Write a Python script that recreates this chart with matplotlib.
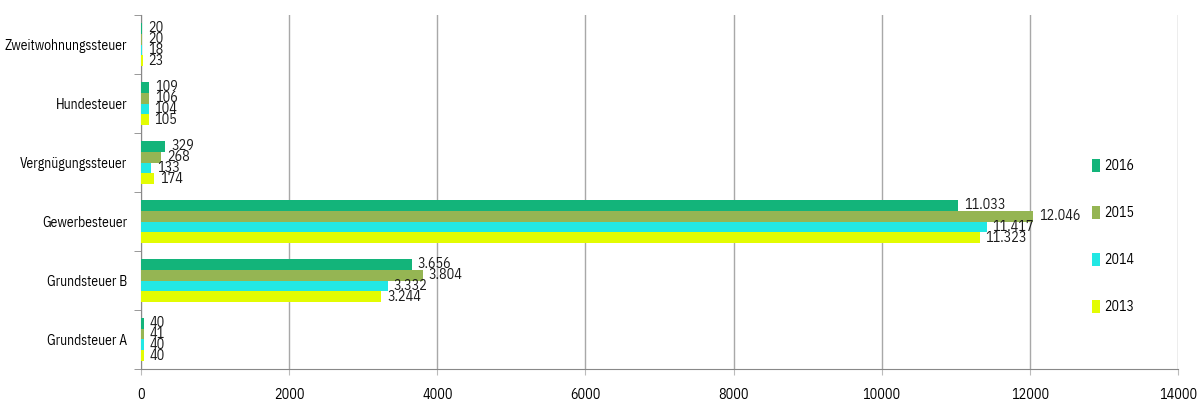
import matplotlib.pyplot as plt
import numpy as np
from matplotlib.ticker import FixedLocator

categories = ["Grundsteuer A", "Grundsteuer B", "Gewerbesteuer",
              "Vergnügungssteuer", "Hundesteuer", "Zweitwohnungssteuer"]
years = ["2016", "2015", "2014", "2013"]
v2016 = [40, 3656, 11033, 329, 109, 20]
v2015 = [41, 3804, 12046, 268, 106, 20]
v2014 = [40, 3332, 11417, 133, 104, 18]
v2013 = [40, 3244, 11323, 174, 105, 23]
series = [v2016, v2015, v2014, v2013]
colors = ["#13b47a", "#95b553", "#22e8e4", "#e3fc02"]
xticks = [0, 2000, 4000, 6000, 8000, 10000, 12000, 14000]

# narrow font to get close to the squeezed Calibri look
plt.rcParams['font.family'] = ['IBM Plex Sans Condensed', 'DejaVu Sans']

def de_fmt(v):
    return f"{v:,}".replace(",", ".")

fig = plt.figure(figsize=(11.98, 4.07), dpi=100)
ax = fig.add_axes([0.1177, 0.0934, 0.8656, 0.8696])

y = np.arange(len(categories))
h = 0.183
for i, (name, vals, c) in enumerate(zip(years, series, colors)):
    pos = y + (1.5 - i) * h
    ax.barh(pos, vals, height=h, color=c, label=name, zorder=3)
    for p, v in zip(pos, vals):
        ax.text(v + 80, p, de_fmt(v), va='center', ha='left', fontsize=10.2,
                color='#1a1a1a', zorder=4)

ax.set_xlim(0, 14000)
ax.set_ylim(-0.5, len(categories) - 0.5)
ax.set_xticks(xticks)
ax.set_xticklabels([str(t) for t in xticks], fontsize=10.2)
ax.set_yticks(y)
ax.set_yticklabels(categories, fontsize=9.8)
ax.yaxis.set_minor_locator(FixedLocator(np.arange(-0.5, len(categories), 1.0)))
ax.tick_params(axis='y', which='major', length=0, pad=10)
ax.tick_params(axis='y', which='minor', length=5, color='#888888')
ax.tick_params(axis='x', length=4, color='#bbbbbb', pad=10)
ax.grid(axis='x', color='#a8a8a8', linewidth=1, zorder=0)
for s in ['top', 'right']:
    ax.spines[s].set_visible(False)
ax.spines['left'].set_color('#888888')
ax.spines['bottom'].set_color('#888888')

ax.legend(loc='center left', bbox_to_anchor=(0.905, 0.375), frameon=False,
          fontsize=10, handlelength=0.55, handleheight=1.1,
          handletextpad=0.3, labelspacing=2.35)

fig.savefig("out.png", dpi=100)
